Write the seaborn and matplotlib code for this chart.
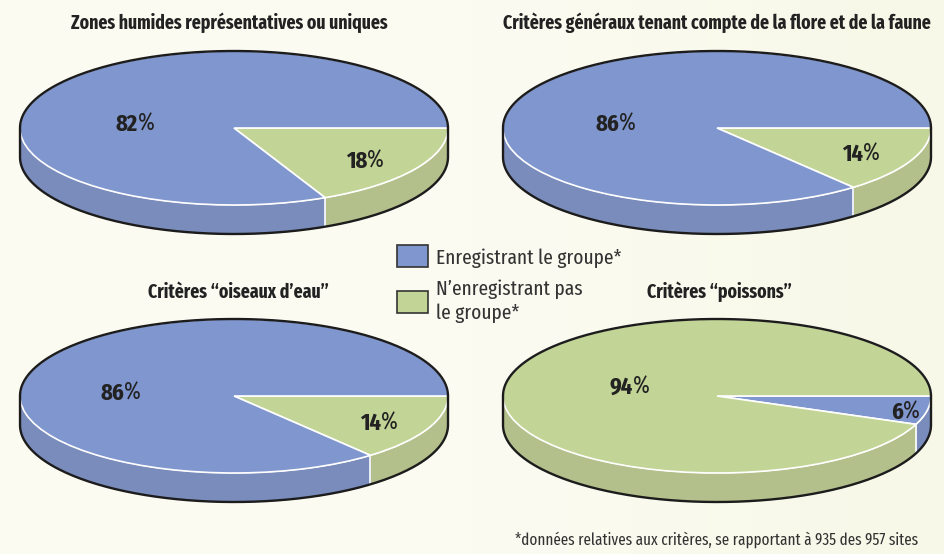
import numpy as np
import matplotlib
matplotlib.use("Agg")
import matplotlib.pyplot as plt
from matplotlib.colors import LinearSegmentedColormap
from matplotlib.patches import Patch
import seaborn as sns

# values
titles = ["Zones humides représentatives ou uniques",
          "Critères généraux tenant compte de la flore et de la faune",
          "Critères “oiseaux d’eau”",
          "Critères “poissons”"]
enregistrant = [82, 86, 86, 6]
non_enregistrant = [18, 14, 14, 94]
legend_labels = ["Enregistrant le groupe*", "N’enregistrant pas\nle groupe*"]
footnote = "*données relatives aux critères, se rapportant à 935 des 957 sites"

W, H = 944, 554
BG = "#FBFBF2"
BG_RIGHT = "#F8F8E8"
BLUE, GREEN = "#8096CE", "#C3D596"
BLUE_SIDE, GREEN_SIDE = "#7A8CBC", "#B3C08C"
OUTLINE = "#1C1C1C"
FONTS = ["Fira Sans Extra Condensed", "Barlow Condensed", "Liberation Sans Narrow", "DejaVu Sans"]

# pie layout in pixels: centre x, centre y
centres = [(234, 128), (717, 128), (234, 396), (717, 396)]
RX, RY, DEPTH = 214, 77, 29
title_pos = [(229, 23), (717, 23), (238, 292), (719, 292)]
# split point between digits and % sign, for (enregistrant, non enregistrant)
label_pos = [((138, 124), (367, 161)), ((619, 124), (863, 154)),
             ((124, 393), (381, 423)), ((903, 412), (633, 387))]

sns.set_theme(style="white")
plt.rcParams["font.family"] = FONTS

fig = plt.figure(figsize=(W / 100, H / 100), dpi=100, facecolor=BG)

# faint paper tint, a little yellower to the right
bg_ax = fig.add_axes([0, 0, 1, 1], zorder=-1)
bg_cmap = LinearSegmentedColormap.from_list("paper", [BG, BG, BG_RIGHT])
bg_ax.imshow(np.linspace(0, 1, 256)[None, :], cmap=bg_cmap, aspect="auto")
bg_ax.axis("off")


def fx(x):
    return x / W


def fy(y):
    return 1 - y / H


for i in range(4):
    cx, cy = centres[i]
    pad = 4
    ax = fig.add_axes([fx(cx - RX - pad), fy(cy + RY + DEPTH + pad),
                       (2 * RX + 2 * pad) / W, (2 * RY + DEPTH + 2 * pad) / H])
    # the smaller slice starts at 3 o'clock and runs clockwise
    if enregistrant[i] < non_enregistrant[i]:
        vals, cols, sides = [enregistrant[i], non_enregistrant[i]], [BLUE, GREEN], [BLUE_SIDE, GREEN_SIDE]
    else:
        vals, cols, sides = [non_enregistrant[i], enregistrant[i]], [GREEN, BLUE], [GREEN_SIDE, BLUE_SIDE]

    ax.pie(vals, colors=cols, startangle=0, counterclock=False, radius=1,
           wedgeprops={"edgecolor": "white", "linewidth": 1.2, "zorder": 3})
    ax.set_aspect("auto")
    ax.set_xlim(-1 - pad / RX, 1 + pad / RX)
    d = DEPTH / RY
    ax.set_ylim(-1 - d - pad / RY, 1 + pad / RY)

    # side wall of the disc, lower half only
    split = -vals[0] * 3.6
    t1 = np.radians(np.linspace(0, split, 60))
    t2 = np.radians(np.linspace(split, -180, 120))
    for t, c in [(t1, sides[0]), (t2, sides[1])]:
        ax.fill_between(np.cos(t), np.sin(t) - d, np.sin(t), color=c, lw=0, zorder=1)
    sx, sy = np.cos(np.radians(split)), np.sin(np.radians(split))
    ax.plot([sx, sx], [sy, sy - d], color="white", lw=1.2, zorder=2)

    # black outline round the whole disc
    top = np.radians(np.linspace(0, 180, 180))
    low = np.radians(np.linspace(180, 360, 180))
    ox = np.r_[np.cos(top), np.cos(low), 1]
    oy = np.r_[np.sin(top), np.sin(low) - d, 0]
    ax.plot(ox, oy, color=OUTLINE, lw=1.7, zorder=4, solid_joinstyle="round")

    tx, ty = title_pos[i]
    fig.text(fx(tx), fy(ty), titles[i], ha="center", va="center", fontsize=13.9,
             fontweight="bold", color="#222222")

    for v, (lx, ly) in zip([enregistrant[i], non_enregistrant[i]], label_pos[i]):
        fig.text(fx(lx), fy(ly), str(v), ha="right", va="center", fontsize=17.5,
                 fontweight="bold", color="#222222")
        fig.text(fx(lx), fy(ly), "%", ha="left", va="center", fontsize=17.5, color="#222222")

handles = [Patch(facecolor=BLUE, edgecolor="#333333", linewidth=1.2),
           Patch(facecolor=GREEN, edgecolor="#333333", linewidth=1.2)]
leg = fig.legend(handles, legend_labels, loc="upper left", bbox_to_anchor=(fx(391), fy(239)),
                 frameon=False, fontsize=15.1, handlelength=1.48, handleheight=1.25,
                 handletextpad=0.38, labelspacing=0.55, labelcolor="#333333",
                 borderpad=0.3, borderaxespad=0)
for t in leg.get_texts():
    t.set_linespacing(1.3)

fig.text(fx(918), fy(540), footnote, ha="right", va="center", fontsize=11.8, color="#333333")

fig.savefig("out.png", dpi=100, facecolor=BG)
